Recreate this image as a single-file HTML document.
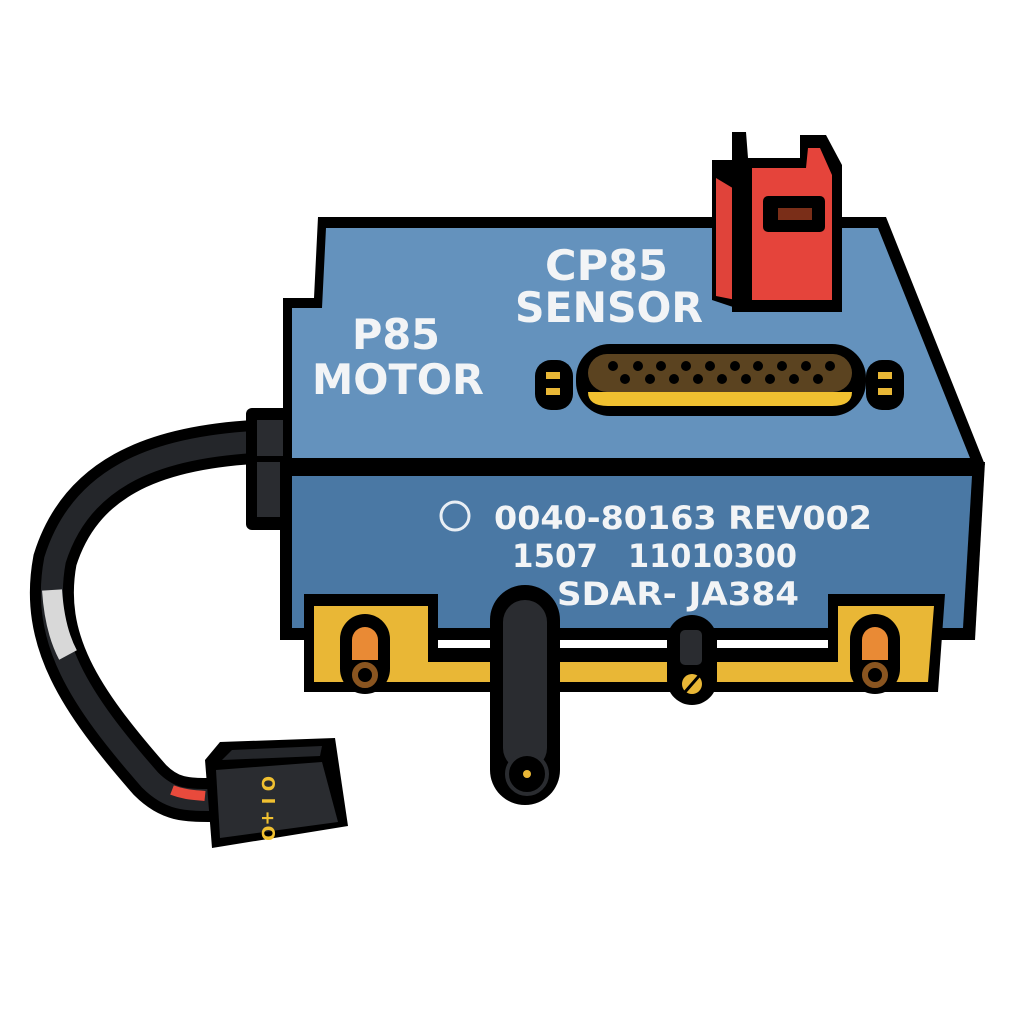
<!DOCTYPE html>
<html><head><style>html,body{margin:0;padding:0;background:#fff}svg{display:block}</style></head>
<body>
<svg width="1024" height="1024" viewBox="0 0 1024 1024" xmlns="http://www.w3.org/2000/svg">
<!-- cable -->
<path d="M255,442 C150,448 80,480 55,560 C40,640 80,700 150,780 C170,800 185,800 215,800" fill="none" stroke="#000" stroke-width="44" stroke-linecap="round"/>
<path d="M255,442 C150,448 80,480 55,560 C40,640 80,700 150,780 C170,800 185,800 215,800" fill="none" stroke="#24262a" stroke-width="22"/>
<path d="M52,590 C54,620 60,640 68,655" fill="none" stroke="#d8d8d8" stroke-width="20"/>
<path d="M172,790 C185,795 195,795 205,796" fill="none" stroke="#e84a3c" stroke-width="10"/>
<!-- gland -->
<rect x="246" y="408" width="50" height="122" rx="6" fill="#000"/>
<rect x="257" y="420" width="32" height="36" fill="#2a2c30"/>
<rect x="257" y="462" width="32" height="55" fill="#2a2c30"/>
<!-- body top -->
<path d="M318,217 L886,217 L985,465 L283,465 L283,298 L314,298 Z" fill="#000"/>
<path d="M326,228 L878,228 L970,458 L292,458 L292,308 L322,308 Z" fill="#6492bd"/>
<!-- front face -->
<path d="M280,462 L985,462 L975,640 L280,640 Z" fill="#000"/>
<path d="M292,476 L972,476 L963,628 L292,628 Z" fill="#4a78a4"/>
<!-- red connector -->
<path d="M712,160 L712,300 L742,310 L742,290 L738,160 Z" fill="#000"/>
<path d="M716,178 L716,296 L736,300 L736,190 Z" fill="#e0433a"/>
<path d="M732,132 L732,312 L842,312 L842,165 L826,135 L800,135 L800,158 L748,158 L746,132 Z" fill="#000"/>
<path d="M752,168 L806,168 L808,148 L820,148 L832,175 L832,300 L752,300 Z" fill="#e5443b"/>
<rect x="763" y="196" width="62" height="36" rx="5" fill="#000"/>
<rect x="778" y="208" width="34" height="12" fill="#7a2e18"/>
<!-- yellow bracket -->
<path d="M304,594 L438,594 L438,648 L828,648 L828,594 L945,594 L938,692 L304,692 Z" fill="#000"/>
<path d="M314,606 L428,606 L428,662 L838,662 L838,606 L934,606 L928,682 L314,682 Z" fill="#e9b736"/>
<!-- screws -->
<g>
<rect x="340" y="614" width="50" height="80" rx="25" fill="#000"/>
<path d="M352,640 a13,13 0 0 1 26,0 v20 h-26 z" fill="#e98a35"/>
<circle cx="365" cy="675" r="10" fill="none" stroke="#8a5520" stroke-width="6"/>
<rect x="850" y="614" width="50" height="80" rx="25" fill="#000"/>
<path d="M862,640 a13,13 0 0 1 26,0 v20 h-26 z" fill="#e98a35"/>
<circle cx="875" cy="675" r="10" fill="none" stroke="#8a5520" stroke-width="6"/>
<rect x="667" y="615" width="50" height="90" rx="25" fill="#000"/>
<rect x="680" y="630" width="22" height="35" rx="5" fill="#2a2c30"/>
<circle cx="692" cy="684" r="10" fill="#e9b736"/>
<line x1="685" y1="692" x2="699" y2="676" stroke="#000" stroke-width="3"/>
</g>
<!-- rod -->
<rect x="490" y="585" width="70" height="220" rx="35" fill="#000"/>
<rect x="503" y="600" width="44" height="170" rx="22" fill="#2a2c30"/>
<circle cx="527" cy="774" r="20" fill="#000" stroke="#2a2c30" stroke-width="4"/>
<circle cx="527" cy="774" r="4" fill="#e9b736"/>
<!-- DB connector -->
<rect x="535" y="360" width="38" height="50" rx="16" fill="#000"/>
<rect x="546" y="372" width="14" height="7" fill="#e9b736"/><rect x="546" y="388" width="14" height="7" fill="#e9b736"/>
<rect x="866" y="360" width="38" height="50" rx="16" fill="#000"/>
<rect x="878" y="372" width="14" height="7" fill="#e9b736"/><rect x="878" y="388" width="14" height="7" fill="#e9b736"/>
<rect x="576" y="344" width="290" height="72" rx="34" fill="#000"/>
<path d="M588,392 h264 q0,14 -20,14 h-224 q-20,0 -20,-14z" fill="#f0c030"/>
<rect x="588" y="354" width="264" height="38" rx="19" fill="#5b4320"/>
<g fill="#000">
<circle cx="613" cy="366" r="5"/><circle cx="638" cy="366" r="5"/><circle cx="661" cy="366" r="5"/><circle cx="686" cy="366" r="5"/><circle cx="710" cy="366" r="5"/><circle cx="735" cy="366" r="5"/><circle cx="758" cy="366" r="5"/><circle cx="782" cy="366" r="5"/><circle cx="806" cy="366" r="5"/><circle cx="830" cy="366" r="5"/>
<circle cx="625" cy="379" r="5"/><circle cx="650" cy="379" r="5"/><circle cx="674" cy="379" r="5"/><circle cx="698" cy="379" r="5"/><circle cx="722" cy="379" r="5"/><circle cx="746" cy="379" r="5"/><circle cx="770" cy="379" r="5"/><circle cx="794" cy="379" r="5"/><circle cx="818" cy="379" r="5"/>
</g>
<!-- labels -->
<g font-family="DejaVu Sans, sans-serif" font-weight="bold" fill="#f2f4f6">
<text x="545" y="280" font-size="42" textLength="123" lengthAdjust="spacingAndGlyphs">CP85</text>
<text x="515" y="322" font-size="42" textLength="188" lengthAdjust="spacingAndGlyphs">SENSOR</text>
<text x="352" y="349" font-size="42" textLength="88" lengthAdjust="spacingAndGlyphs">P85</text>
<text x="312" y="394" font-size="42" textLength="172" lengthAdjust="spacingAndGlyphs">MOTOR</text>
</g>
<circle cx="455" cy="516" r="14" fill="none" stroke="#e8eef4" stroke-width="3"/>
<g font-family="DejaVu Sans, sans-serif" font-weight="bold" fill="#f2f4f6" font-size="32">
<text x="494" y="529" textLength="378" lengthAdjust="spacingAndGlyphs">0040-80163 REV002</text>
<text x="512" y="567" textLength="86" lengthAdjust="spacingAndGlyphs">1507</text>
<text x="628" y="567" textLength="169" lengthAdjust="spacingAndGlyphs">11010300</text>
<text x="557" y="605" textLength="242" lengthAdjust="spacingAndGlyphs">SDAR- JA384</text>
</g>
<!-- small connector -->
<path d="M205,760 L220,742 L335,738 L348,826 L212,848 Z" fill="#000"/>
<path d="M216,770 L322,762 L338,822 L220,838 Z" fill="#2a2c30"/>
<path d="M222,760 L232,750 L322,746 L320,756 Z" fill="#24262a"/>
<g fill="#f0c030" font-family="DejaVu Sans, sans-serif" font-weight="bold" font-size="18">
<text transform="translate(262,776) rotate(90)">O I +O</text>
</g>
</svg>
</body></html>
